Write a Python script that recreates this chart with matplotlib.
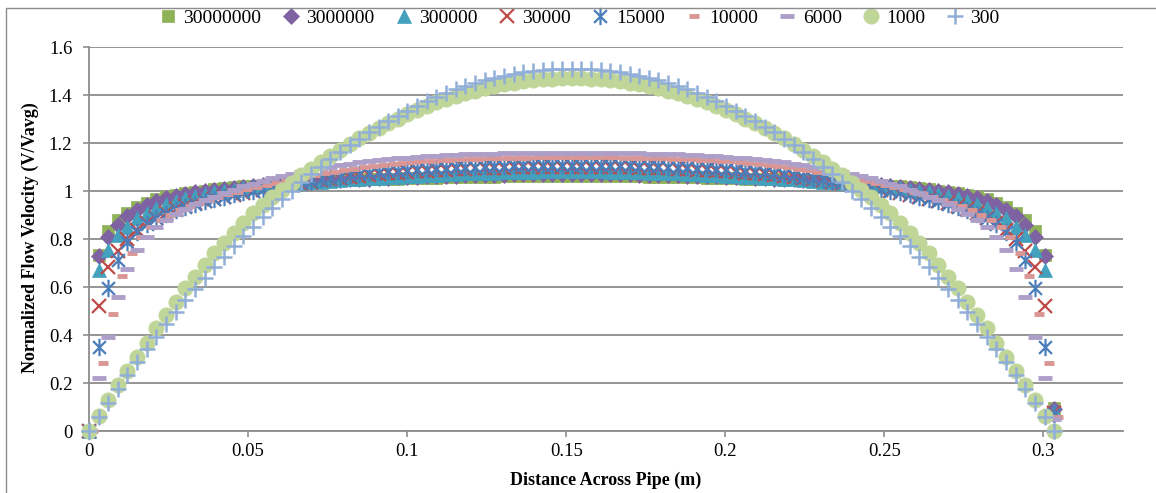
import matplotlib
matplotlib.use('Agg')
import matplotlib.pyplot as plt
from matplotlib.path import Path
from matplotlib.patches import Rectangle

plt.rcParams['font.family'] = ['Liberation Serif', 'DejaVu Serif']

# Posiciones a lo ancho de la tuberia (m)
x_mesh = [0.0000, 0.0030, 0.0061, 0.0091, 0.0121, 0.0152, 0.0182, 0.0212, 0.0243, 0.0273,
          0.0303, 0.0334, 0.0364, 0.0394, 0.0425, 0.0455, 0.0485, 0.0516, 0.0546, 0.0576,
          0.0607, 0.0637, 0.0667, 0.0698, 0.0728, 0.0759, 0.0789, 0.0819, 0.0850, 0.0880,
          0.0910, 0.0941, 0.0971, 0.1001, 0.1032, 0.1062, 0.1092, 0.1123, 0.1153, 0.1183,
          0.1214, 0.1244, 0.1274, 0.1305, 0.1335, 0.1365, 0.1396, 0.1426, 0.1456, 0.1487,
          0.1517, 0.1547, 0.1578, 0.1608, 0.1638, 0.1669, 0.1699, 0.1729, 0.1760, 0.1790,
          0.1820, 0.1851, 0.1881, 0.1911, 0.1942, 0.1972, 0.2002, 0.2033, 0.2063, 0.2093,
          0.2124, 0.2154, 0.2184, 0.2215, 0.2245, 0.2276, 0.2306, 0.2336, 0.2367, 0.2397,
          0.2427, 0.2458, 0.2488, 0.2518, 0.2549, 0.2579, 0.2609, 0.2640, 0.2670, 0.2700,
          0.2731, 0.2761, 0.2791, 0.2822, 0.2852, 0.2882, 0.2913, 0.2943, 0.2973, 0.3004,
          0.3034]
# la serie 10000 aparece corrida un poco a la derecha
shift_10000 = 0.0013

labels = ['30000000', '3000000', '300000', '30000', '15000', '10000', '6000', '1000', '300']

v_30000000 = [0, 0.735, 0.835, 0.88, 0.91, 0.935, 0.952, 0.965, 0.975, 0.984,
              0.991, 0.997, 1.002, 1.007, 1.011, 1.015, 1.019, 1.022, 1.025, 1.028,
              1.031, 1.033, 1.036, 1.038, 1.040, 1.042, 1.044, 1.045, 1.047, 1.048,
              1.050, 1.051, 1.052, 1.053, 1.054, 1.055, 1.056, 1.057, 1.058, 1.058,
              1.059, 1.060, 1.060, 1.061, 1.061, 1.061, 1.062, 1.062, 1.062, 1.062,
              1.062, 1.062, 1.062, 1.062, 1.062, 1.061, 1.061, 1.061, 1.060, 1.060,
              1.059, 1.058, 1.058, 1.057, 1.056, 1.055, 1.054, 1.053, 1.052, 1.051,
              1.050, 1.048, 1.047, 1.045, 1.044, 1.042, 1.040, 1.038, 1.036, 1.033,
              1.031, 1.028, 1.025, 1.022, 1.019, 1.015, 1.011, 1.007, 1.002, 0.997,
              0.991, 0.984, 0.975, 0.965, 0.952, 0.935, 0.91, 0.88, 0.835, 0.735,
              0.095]

v_3000000 = [0, 0.73, 0.81, 0.86, 0.895, 0.922, 0.942, 0.957, 0.969, 0.979,
             0.987, 0.994, 1.0, 1.005, 1.01, 1.014, 1.018, 1.022, 1.025, 1.028,
             1.031, 1.034, 1.037, 1.039, 1.042, 1.044, 1.046, 1.048, 1.05, 1.052,
             1.054, 1.055, 1.057, 1.058, 1.06, 1.061, 1.062, 1.063, 1.064, 1.065,
             1.066, 1.067, 1.068, 1.068, 1.069, 1.069, 1.07, 1.07, 1.07, 1.071,
             1.071, 1.071, 1.07, 1.07, 1.07, 1.069, 1.069, 1.068, 1.068, 1.067,
             1.066, 1.065, 1.064, 1.063, 1.062, 1.061, 1.06, 1.058, 1.057, 1.055,
             1.054, 1.052, 1.05, 1.048, 1.046, 1.044, 1.042, 1.039, 1.037, 1.034,
             1.031, 1.028, 1.025, 1.022, 1.018, 1.014, 1.01, 1.005, 1.0, 0.994,
             0.987, 0.979, 0.969, 0.957, 0.942, 0.922, 0.895, 0.86, 0.81, 0.73,
             0.09]

v_300000 = [0, 0.67, 0.754, 0.817, 0.85, 0.886, 0.907, 0.928, 0.945, 0.958,
            0.97, 0.98, 0.988, 0.995, 1.001, 1.006, 1.011, 1.015, 1.019, 1.023,
            1.027, 1.03, 1.033, 1.036, 1.039, 1.042, 1.045, 1.048, 1.051, 1.053,
            1.056, 1.058, 1.06, 1.062, 1.064, 1.066, 1.068, 1.07, 1.071, 1.073,
            1.074, 1.076, 1.077, 1.078, 1.079, 1.08, 1.081, 1.082, 1.083, 1.083,
            1.084, 1.083, 1.083, 1.082, 1.081, 1.08, 1.079, 1.078, 1.077, 1.076,
            1.074, 1.073, 1.071, 1.07, 1.068, 1.066, 1.064, 1.062, 1.06, 1.058,
            1.056, 1.053, 1.051, 1.048, 1.045, 1.042, 1.039, 1.036, 1.033, 1.03,
            1.027, 1.023, 1.019, 1.015, 1.011, 1.006, 1.001, 0.995, 0.988, 0.98,
            0.97, 0.958, 0.945, 0.928, 0.907, 0.886, 0.85, 0.817, 0.754, 0.67,
            0.085]

v_30000 = [0, 0.52, 0.685, 0.75, 0.80, 0.838, 0.866, 0.889, 0.907, 0.923,
           0.936, 0.948, 0.958, 0.967, 0.976, 0.984, 0.992, 0.999, 1.006, 1.013,
           1.02, 1.026, 1.032, 1.038, 1.044, 1.049, 1.054, 1.059, 1.063, 1.067,
           1.071, 1.074, 1.077, 1.08, 1.083, 1.085, 1.087, 1.089, 1.091, 1.093,
           1.094, 1.095, 1.096, 1.097, 1.098, 1.098, 1.099, 1.099, 1.1, 1.1,
           1.1, 1.1, 1.1, 1.099, 1.099, 1.098, 1.098, 1.097, 1.096, 1.095,
           1.094, 1.093, 1.091, 1.089, 1.087, 1.085, 1.083, 1.08, 1.077, 1.074,
           1.071, 1.067, 1.063, 1.059, 1.054, 1.049, 1.044, 1.038, 1.032, 1.026,
           1.02, 1.013, 1.006, 0.999, 0.992, 0.984, 0.976, 0.967, 0.958, 0.948,
           0.936, 0.923, 0.907, 0.889, 0.866, 0.838, 0.80, 0.75, 0.685, 0.52,
           0.075]

v_15000 = [0, 0.35, 0.596, 0.713, 0.789, 0.83, 0.862, 0.886, 0.905, 0.921,
           0.935, 0.947, 0.958, 0.968, 0.977, 0.986, 0.994, 1.002, 1.009, 1.016,
           1.023, 1.03, 1.036, 1.042, 1.048, 1.054, 1.06, 1.065, 1.07, 1.074,
           1.078, 1.082, 1.085, 1.088, 1.091, 1.093, 1.095, 1.097, 1.099, 1.101,
           1.102, 1.104, 1.105, 1.106, 1.107, 1.108, 1.108, 1.109, 1.109, 1.11,
           1.11, 1.11, 1.109, 1.109, 1.108, 1.108, 1.107, 1.106, 1.105, 1.104,
           1.102, 1.101, 1.099, 1.097, 1.095, 1.093, 1.091, 1.088, 1.085, 1.082,
           1.078, 1.074, 1.07, 1.065, 1.06, 1.054, 1.048, 1.042, 1.036, 1.03,
           1.023, 1.016, 1.009, 1.002, 0.994, 0.986, 0.977, 0.968, 0.958, 0.947,
           0.935, 0.921, 0.905, 0.886, 0.862, 0.83, 0.789, 0.713, 0.596, 0.35,
           0.07]

v_10000 = [0, 0.285, 0.486, 0.646, 0.743, 0.81, 0.85, 0.879, 0.902, 0.921,
           0.937, 0.951, 0.964, 0.976, 0.987, 0.997, 1.007, 1.016, 1.025, 1.034,
           1.042, 1.05, 1.058, 1.066, 1.073, 1.08, 1.087, 1.093, 1.099, 1.104,
           1.109, 1.113, 1.117, 1.12, 1.123, 1.126, 1.128, 1.13, 1.132, 1.134,
           1.135, 1.136, 1.137, 1.138, 1.139, 1.139, 1.14, 1.14, 1.14, 1.14,
           1.14, 1.14, 1.14, 1.14, 1.14, 1.139, 1.139, 1.138, 1.137, 1.136,
           1.135, 1.134, 1.132, 1.13, 1.128, 1.126, 1.123, 1.12, 1.117, 1.113,
           1.109, 1.104, 1.099, 1.093, 1.087, 1.08, 1.073, 1.066, 1.058, 1.05,
           1.042, 1.034, 1.025, 1.016, 1.007, 0.997, 0.987, 0.976, 0.964, 0.951,
           0.937, 0.921, 0.902, 0.879, 0.85, 0.81, 0.743, 0.646, 0.486, 0.285,
           0.06]

v_6000 = [0, 0.22, 0.39, 0.557, 0.674, 0.755, 0.81, 0.85, 0.88, 0.904,
          0.925, 0.944, 0.961, 0.977, 0.992, 1.006, 1.019, 1.031, 1.042, 1.053,
          1.063, 1.072, 1.081, 1.089, 1.096, 1.102, 1.108, 1.114, 1.119, 1.124,
          1.128, 1.132, 1.136, 1.139, 1.142, 1.145, 1.147, 1.149, 1.151, 1.153,
          1.154, 1.155, 1.156, 1.157, 1.158, 1.158, 1.159, 1.159, 1.16, 1.16,
          1.16, 1.16, 1.16, 1.159, 1.159, 1.158, 1.158, 1.157, 1.156, 1.155,
          1.154, 1.153, 1.151, 1.149, 1.147, 1.145, 1.142, 1.139, 1.136, 1.132,
          1.128, 1.124, 1.119, 1.114, 1.108, 1.102, 1.096, 1.089, 1.081, 1.072,
          1.063, 1.053, 1.042, 1.031, 1.019, 1.006, 0.992, 0.977, 0.961, 0.944,
          0.925, 0.904, 0.88, 0.85, 0.81, 0.755, 0.674, 0.557, 0.39, 0.22,
          0.05]

v_1000 = [0, 0.064, 0.129, 0.19, 0.251, 0.31, 0.368, 0.428, 0.483, 0.539,
          0.595, 0.643, 0.69, 0.74, 0.785, 0.826, 0.868, 0.907, 0.941, 0.973,
          1.004, 1.035, 1.065, 1.093, 1.12, 1.147, 1.172, 1.196, 1.22, 1.242,
          1.263, 1.283, 1.302, 1.32, 1.338, 1.354, 1.369, 1.383, 1.396, 1.407,
          1.418, 1.428, 1.437, 1.445, 1.451, 1.457, 1.462, 1.465, 1.468, 1.469,
          1.47, 1.469, 1.468, 1.465, 1.462, 1.457, 1.451, 1.445, 1.437, 1.428,
          1.418, 1.407, 1.396, 1.383, 1.369, 1.354, 1.338, 1.32, 1.302, 1.283,
          1.263, 1.242, 1.22, 1.196, 1.172, 1.147, 1.12, 1.093, 1.065, 1.035,
          1.004, 0.973, 0.941, 0.907, 0.868, 0.826, 0.785, 0.74, 0.69, 0.643,
          0.595, 0.539, 0.483, 0.428, 0.368, 0.31, 0.251, 0.19, 0.129, 0.064,
          0]

v_300 = [0, 0.06, 0.118, 0.176, 0.232, 0.287, 0.341, 0.393, 0.445, 0.495,
         0.544, 0.591, 0.638, 0.683, 0.727, 0.77, 0.812, 0.852, 0.891, 0.93,
         0.966, 1.002, 1.036, 1.07, 1.102, 1.133, 1.162, 1.19, 1.218, 1.244,
         1.268, 1.292, 1.314, 1.335, 1.355, 1.374, 1.392, 1.408, 1.423, 1.437,
         1.45, 1.461, 1.471, 1.48, 1.488, 1.495, 1.5, 1.505, 1.508, 1.509,
         1.51, 1.509, 1.508, 1.505, 1.5, 1.495, 1.488, 1.48, 1.471, 1.461,
         1.45, 1.437, 1.423, 1.408, 1.392, 1.374, 1.355, 1.335, 1.314, 1.292,
         1.268, 1.244, 1.218, 1.19, 1.162, 1.133, 1.102, 1.07, 1.036, 1.002,
         0.966, 0.93, 0.891, 0.852, 0.812, 0.77, 0.727, 0.683, 0.638, 0.591,
         0.544, 0.495, 0.445, 0.393, 0.341, 0.287, 0.232, 0.176, 0.118, 0.06,
         0]

x_ticks = [0, 0.05, 0.1, 0.15, 0.2, 0.25, 0.3]
x_tick_labels = ['0', '0.05', '0.1', '0.15', '0.2', '0.25', '0.3']
y_ticks = [0, 0.2, 0.4, 0.6, 0.8, 1.0, 1.2, 1.4, 1.6]
y_tick_labels = ['0', '0.2', '0.4', '0.6', '0.8', '1', '1.2', '1.4', '1.6']

# marcador tipo asterisco de Excel (X con linea vertical)
asterisco = Path([(-1, -1), (1, 1), (-1, 1), (1, -1), (0, -1.35), (0, 1.35)],
                 [Path.MOVETO, Path.LINETO] * 3)

x_10000 = [v + shift_10000 for v in x_mesh]

series = [
    (x_mesh, v_30000000, dict(marker='s', ms=8.5, mfc='#8FB257', mec='#8FB257', mew=0.5)),
    (x_mesh, v_3000000, dict(marker='D', ms=8.5, mfc='#7E62A1', mec='#7E62A1', mew=0.5)),
    (x_mesh, v_300000, dict(marker='^', ms=10, mfc='#43A1BD', mec='#43A1BD', mew=0.5)),
    (x_mesh, v_30000, dict(marker='x', ms=10.5, mec='#BE4B48', mew=1.6)),
    (x_mesh, v_15000, dict(marker=asterisco, ms=12.5, mfc='none', mec='#4A7EBB', mew=1.6)),
    (x_10000, v_10000, dict(marker='_', ms=7, mec='#DA9694', mew=3.5)),
    (x_mesh, v_6000, dict(marker='_', ms=10, mec='#AE9FC8', mew=3.5)),
    (x_mesh, v_1000, dict(marker='o', ms=11, mfc='#C0D699', mec='#C0D699', mew=0.5)),
    (x_mesh, v_300, dict(marker='+', ms=11, mec='#91AED8', mew=1.8)),
]

fig = plt.figure(figsize=(11.56, 4.93), dpi=100)
ax = fig.add_axes([89/1156, 1-431/493, (1123-89)/1156, (431-47)/493])

for lab, (xs, ys, st) in zip(labels, series):
    ax.plot(xs, ys, ls='none', label=lab, clip_on=False, zorder=3, **st)

ax.set_xlim(0, 0.325)
ax.set_ylim(0, 1.6)
ax.set_xticks(x_ticks)
ax.set_xticklabels(x_tick_labels)
ax.set_yticks(y_ticks)
ax.set_yticklabels(y_tick_labels)
ax.grid(axis='y', color='#8C8C8C', lw=1.3)
ax.set_axisbelow(True)
for s in ['top', 'right']:
    ax.spines[s].set_visible(False)
for s in ['left', 'bottom']:
    ax.spines[s].set_color('#8C8C8C')
    ax.spines[s].set_linewidth(1.3)
ax.tick_params(axis='both', colors='#8C8C8C', labelcolor='black', labelsize=13.5, length=4, width=1.2)
ax.tick_params(axis='y', pad=8)
ax.tick_params(axis='x', pad=5)

ax.legend(loc='center', bbox_to_anchor=(580/1156, 1-18/493), bbox_transform=fig.transFigure,
          ncol=9, frameon=False, fontsize=14, handlelength=0.8, handletextpad=0.4,
          columnspacing=1.1, numpoints=1, borderaxespad=0, borderpad=0)

fig.text(606/1156, 1-480/493, 'Distance Across Pipe (m)', ha='center', va='center',
         fontsize=13, fontweight='bold')
fig.text(30/1156, 1-238/493, 'Normalized Flow Velocity (V/Vavg)', ha='center', va='center',
         rotation=90, fontsize=13, fontweight='bold')

# borde del area del grafico
fig.add_artist(Rectangle((6/1156, -0.05), 1.1, 1-8/493+0.05, transform=fig.transFigure,
                         fill=False, ec='#8C8C8C', lw=1.0))

fig.savefig('out.png', dpi=100)
